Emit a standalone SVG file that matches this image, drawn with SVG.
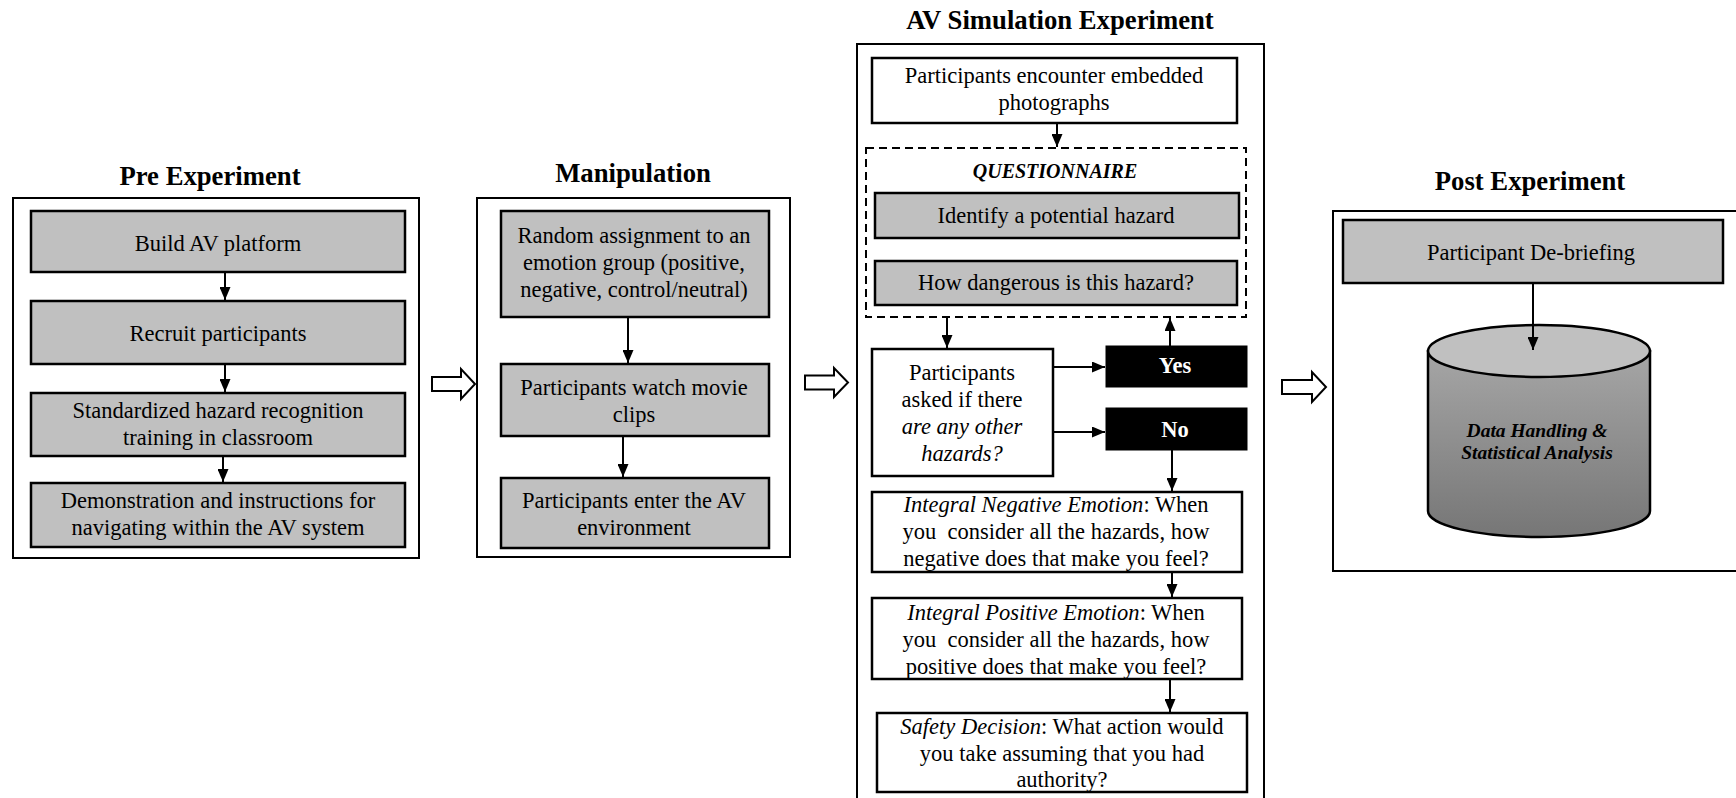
<svg xmlns="http://www.w3.org/2000/svg" width="1736" height="798" viewBox="0 0 1736 798">
<style>
text{font-family:"Liberation Serif","Times New Roman",serif;font-size:22.5px;fill:#000;text-anchor:middle}
.title{font-size:26.7px;font-weight:bold}
.frame{fill:#fff;stroke:#000;stroke-width:2}
.gbox{fill:#c0c0c0;stroke:#000;stroke-width:2.5}
.wbox{fill:#fff;stroke:#000;stroke-width:2.5}
.bbox{fill:#000;stroke:#000;stroke-width:1}
.wt{fill:#fff;font-weight:bold}
.it{font-style:italic}
.bi{font-style:italic;font-weight:bold}
.conn{stroke:#000;stroke-width:2;fill:none;marker-end:url(#ah)}
.hollow{fill:#fff;stroke:#000;stroke-width:2;stroke-linejoin:miter}
</style>
<defs>
<marker id="ah" viewBox="0 0 13 11" markerWidth="13" markerHeight="11" refX="13" refY="5.5" orient="auto" markerUnits="userSpaceOnUse">
<path d="M0,0 L13,5.5 L0,11 z" fill="#000"/>
</marker>
<linearGradient id="cyl" x1="0" y1="0" x2="0" y2="1">
<stop offset="0" stop-color="#a6a6a6"/>
<stop offset="1" stop-color="#767676"/>
</linearGradient>
</defs>
<rect width="1736" height="798" fill="#fff"/>

<g id="pre">
<text class="title" x="210" y="185">Pre Experiment</text>
<rect class="frame" x="13" y="198" width="406" height="360"/>
<g id="pre1"><rect class="gbox" x="31" y="211" width="374" height="61"/><text x="218" y="250.5">Build AV platform</text></g>
<g id="pre2"><rect class="gbox" x="31" y="301" width="374" height="63"/><text x="218" y="340.5">Recruit participants</text></g>
<g id="pre3"><rect class="gbox" x="31" y="393" width="374" height="63"/><text x="218" y="418">Standardized hazard recognition</text><text x="218" y="445">training in classroom</text></g>
<g id="pre4"><rect class="gbox" x="31" y="483" width="374" height="64"/><text x="218" y="508">Demonstration and instructions for</text><text x="218" y="535">navigating within the AV system</text></g>
</g>

<g id="manip">
<text class="title" x="633" y="181.5">Manipulation</text>
<rect class="frame" x="477" y="198" width="313" height="359"/>
<g id="m1"><rect class="gbox" x="501" y="211" width="268" height="106"/><text x="634" y="242.5">Random assignment to an</text><text x="634" y="269.5">emotion group (positive,</text><text x="634" y="296.5">negative, control/neutral)</text></g>
<g id="m2"><rect class="gbox" x="501" y="364" width="268" height="72"/><text x="634" y="395">Participants watch movie</text><text x="634" y="421.5">clips</text></g>
<g id="m3"><rect class="gbox" x="501" y="478" width="268" height="70"/><text x="634" y="508">Participants enter the AV</text><text x="634" y="535">environment</text></g>
</g>

<g id="av">
<text class="title" x="1060" y="29">AV Simulation Experiment</text>
<rect class="frame" x="857" y="44" width="407" height="770"/>
<g id="av1"><rect class="wbox" x="872" y="58" width="365" height="65"/><text x="1054" y="82.5">Participants encounter embedded</text><text x="1054" y="110">photographs</text></g>
<g id="questionnaire"><rect x="866" y="148" width="380" height="169" fill="none" stroke="#000" stroke-width="2" stroke-dasharray="8,5"/>
<text class="bi" x="1055" y="178" style="font-size:20px">QUESTIONNAIRE</text></g>
<g id="q1"><rect class="gbox" x="875" y="193" width="364" height="45"/><text x="1056" y="223">Identify a potential hazard</text></g>
<g id="q2"><rect class="gbox" x="875" y="261" width="362" height="44"/><text x="1056" y="290">How dangerous is this hazard?</text></g>
<g id="ask"><rect class="wbox" x="872" y="349" width="181" height="127"/><text x="962" y="380">Participants</text><text x="962" y="406.5">asked if there</text><text class="it" x="962" y="433.5">are any other</text><text class="it" x="962" y="460.5">hazards?</text></g>
<g id="yes"><rect class="bbox" x="1106" y="346" width="141" height="41"/><text class="wt" x="1175" y="373">Yes</text></g>
<g id="no"><rect class="bbox" x="1106" y="408" width="141" height="42"/><text class="wt" x="1175" y="436.5">No</text></g>
<g id="ine"><rect class="wbox" x="872" y="492" width="370" height="80"/><text x="1056" y="511.5"><tspan class="it">Integral Negative Emotion</tspan>: When</text><text x="1056" y="539">you&#160; consider all the hazards, how</text><text x="1056" y="566">negative does that make you feel?</text></g>
<g id="ipe"><rect class="wbox" x="872" y="598" width="370" height="81"/><text x="1056" y="620"><tspan class="it">Integral Positive Emotion</tspan>: When</text><text x="1056" y="646.5">you&#160; consider all the hazards, how</text><text x="1056" y="673.5">positive does that make you feel?</text></g>
<g id="safety"><rect class="wbox" x="877" y="713" width="370" height="79"/><text x="1062" y="733.5"><tspan class="it">Safety Decision</tspan>: What action would</text><text x="1062" y="760.5">you take assuming that you had</text><text x="1062" y="786.5">authority?</text></g>
</g>

<g id="post">
<text class="title" x="1530" y="190">Post Experiment</text>
<rect class="frame" x="1333" y="211" width="410" height="360"/>
<g id="debrief"><rect class="gbox" x="1343" y="220" width="380" height="63"/><text x="1531" y="260">Participant De-briefing</text></g>
<g id="data">
<path d="M1428,351 L1428,511 A111,26 0 0 0 1650,511 L1650,351 Z" fill="url(#cyl)" stroke="#000" stroke-width="2.5"/>
<ellipse cx="1539" cy="351" rx="111" ry="26" fill="#c0c0c0" stroke="#000" stroke-width="2.5"/>
<text class="bi" x="1537" y="436.5" style="font-size:19.5px">Data Handling &amp;</text>
<text class="bi" x="1537" y="458.5" style="font-size:19.5px">Statistical Analysis</text>
</g>
</g>

<g id="connectors">
<line class="conn" x1="225" y1="272" x2="225" y2="300"/>
<line class="conn" x1="225" y1="364" x2="225" y2="392"/>
<line class="conn" x1="223" y1="456" x2="223" y2="482"/>
<line class="conn" x1="628" y1="317" x2="628" y2="363"/>
<line class="conn" x1="623" y1="436" x2="623" y2="477"/>
<line class="conn" x1="1057" y1="123" x2="1057" y2="147"/>
<line class="conn" x1="947" y1="317" x2="947" y2="348"/>
<line class="conn" x1="1053" y1="367" x2="1105" y2="367"/>
<line class="conn" x1="1053" y1="432" x2="1105" y2="432"/>
<line class="conn" x1="1170" y1="346" x2="1170" y2="318"/>
<line class="conn" x1="1172" y1="450" x2="1172" y2="491"/>
<line class="conn" x1="1172" y1="572" x2="1172" y2="597"/>
<line class="conn" x1="1170" y1="679" x2="1170" y2="712"/>
<line class="conn" x1="1533" y1="283" x2="1533" y2="350"/>
<polygon class="hollow" points="432,377 461,377 461,369 475,384 461,399 461,391 432,391"/>
<polygon class="hollow" points="805,375.5 834,375.5 834,368 848,382.5 834,397 834,389.5 805,389.5"/>
<polygon class="hollow" points="1282,380 1312,380 1312,372 1326,387 1312,402 1312,394 1282,394"/>
</g>
</svg>
